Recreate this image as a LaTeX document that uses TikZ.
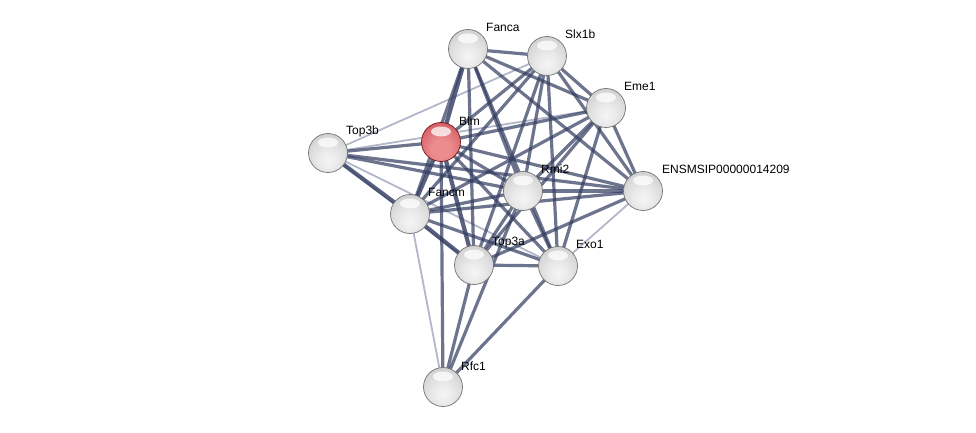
\documentclass[tikz,border=0pt]{standalone}
\usepackage{fontspec}
\setmainfont{Liberation Sans}
\pgfdeclarelayer{bg}
\pgfsetlayers{bg,main}
\pgfdeclareradialshading{gsphere}{\pgfpoint{0bp}{-10bp}}{color(0bp)=(black!4); color(12bp)=(black!8); color(30bp)=(black!17); color(44bp)=(black!30); color(54bp)=(black!46); color(62bp)=(black!60); color(100bp)=(black!60)}
\definecolor{rA}{RGB}{236,140,142}
\definecolor{rB}{RGB}{216,100,105}
\definecolor{rC}{RGB}{196,72,78}
\definecolor{rD}{RGB}{140,30,36}
\pgfdeclareradialshading{rsphere}{\pgfpoint{0bp}{-10bp}}{color(0bp)=(rA); color(12bp)=(rA); color(30bp)=(rB); color(44bp)=(rC); color(62bp)=(rD); color(100bp)=(rD)}
\definecolor{edark}{RGB}{52,62,98}
\definecolor{elight}{RGB}{165,170,192}
\tikzset{
  hilite/.style={path picture={\fill[white,opacity=0.75] ([yshift=10.5pt]path picture bounding box.center) ellipse [x radius=10pt, y radius=5pt];}},
  prot/.style={circle, minimum size=39pt, inner sep=0pt, shading=gsphere, draw=black!55, line width=0.7pt, hilite},
  protred/.style={circle, minimum size=39pt, inner sep=0pt, shading=rsphere, draw=rD!80!black, line width=0.7pt, hilite},
  lbl/.style={anchor=west, inner sep=0pt, font=\fontsize{12}{14}\selectfont},
  es/.style={draw=edark, line width=4.2pt, opacity=0.82},
  em/.style={draw=edark, line width=3.2pt, opacity=0.72},
  ew/.style={draw=elight, line width=1.8pt, opacity=0.85}
}
\begin{document}
\begin{tikzpicture}[x=1pt,y=-1pt]
\useasboundingbox (0,0) rectangle (976,433);
% nodes
\node[prot] (Fanca) at (468,49) {};
\node[prot] (Slx1b) at (547,56) {};
\node[prot] (Eme1) at (606,108) {};
\node[protred] (Blm) at (441,142) {};
\node[prot] (Top3b) at (328,153) {};
\node[prot] (Rmi2) at (523,191) {};
\node[prot] (ENS) at (643,191) {};
\node[prot] (Fancm) at (410,214) {};
\node[prot] (Top3a) at (474,265) {};
\node[prot] (Exo1) at (558,266) {};
\node[prot] (Rfc1) at (443,387) {};
% labels
\node[lbl] (lFanca) at (486,27) {Fanca};
\node[lbl] (lSlx1b) at (565,34) {Slx1b};
\node[lbl] (lEme1) at (624,86) {Eme1};
\node[lbl] (lBlm) at (459,121) {Blm};
\node[lbl] (lTop3b) at (346,131) {Top3b};
\node[lbl] (lRmi2) at (541,169) {Rmi2};
\node[lbl] (lENS) at (662,169) {ENSMSIP00000014209};
\node[lbl] (lFancm) at (428,192) {Fancm};
\node[lbl] (lTop3a) at (492,243) {Top3a};
\node[lbl] (lExo1) at (576,244) {Exo1};
\node[lbl] (lRfc1) at (461,366) {Rfc1};
% edges
\begin{pgfonlayer}{bg}
% light
\draw[ew] (Top3b.center) -- (Slx1b.center);
\draw[ew] (Top3b.center) -- (Eme1.center);
\draw[ew] (Top3b.center) -- (Exo1.center);
\draw[ew] (Top3b.center) -- (Top3a.center);
\draw[ew] (ENS.center) -- (Exo1.center);
\draw[ew] (Fancm.center) -- (Rfc1.center);
% Fanca
\draw[em] (Fanca.center) -- (Slx1b.center);
\draw[em] (Fanca.center) -- (Eme1.center);
\draw[es] (Fanca.center) -- (Blm.center);
\draw[em] (Fanca.center) -- (Fancm.center);
\draw[em] (Fanca.center) -- (Top3a.center);
\draw[em] (Fanca.center) -- (Rmi2.center);
\draw[em] (Fanca.center) -- (Exo1.center);
\draw[em] (Fanca.center) -- (ENS.center);
% Slx1b
\draw[em] (Slx1b.center) -- (Eme1.center);
\draw[em] (Slx1b.center) -- (Blm.center);
\draw[em] (Slx1b.center) -- (Rmi2.center);
\draw[em] (Slx1b.center) -- (ENS.center);
\draw[em] (Slx1b.center) -- (Fancm.center);
\draw[em] (Slx1b.center) -- (Top3a.center);
\draw[em] (Slx1b.center) -- (Exo1.center);
% Eme1
\draw[em] (Eme1.center) -- (Blm.center);
\draw[em] (Eme1.center) -- (Rmi2.center);
\draw[em] (Eme1.center) -- (ENS.center);
\draw[em] (Eme1.center) -- (Fancm.center);
\draw[em] (Eme1.center) -- (Top3a.center);
\draw[em] (Eme1.center) -- (Exo1.center);
% Top3b
\draw[em] (Top3b.center) -- (Blm.center);
\draw[es] (Top3b.center) -- (Fancm.center);
\draw[em] (Top3b.center) -- (Rmi2.center);
\draw[em] (Top3b.center) -- (ENS.center);
% Blm
\draw[em] (Blm.center) -- (Rmi2.center);
\draw[em] (Blm.center) -- (ENS.center);
\draw[es] (Blm.center) -- (Fancm.center);
\draw[es] (Blm.center) -- (Top3a.center);
\draw[em] (Blm.center) -- (Exo1.center);
\draw[em] (Blm.center) -- (Rfc1.center);
% Rmi2
\draw[em] (Rmi2.center) -- (ENS.center);
\draw[em] (Rmi2.center) -- (Fancm.center);
\draw[em] (Rmi2.center) -- (Top3a.center);
\draw[em] (Rmi2.center) -- (Exo1.center);
\draw[em] (Rmi2.center) -- (Rfc1.center);
% ENS
\draw[em] (ENS.center) -- (Fancm.center);
\draw[em] (ENS.center) -- (Top3a.center);
% Fancm
\draw[es] (Fancm.center) -- (Top3a.center);
\draw[em] (Fancm.center) -- (Exo1.center);
% Top3a
\draw[em] (Top3a.center) -- (Exo1.center);
\draw[em] (Top3a.center) -- (Rfc1.center);
% Exo1
\draw[em] (Exo1.center) -- (Rfc1.center);
\end{pgfonlayer}
\end{tikzpicture}
\end{document}
